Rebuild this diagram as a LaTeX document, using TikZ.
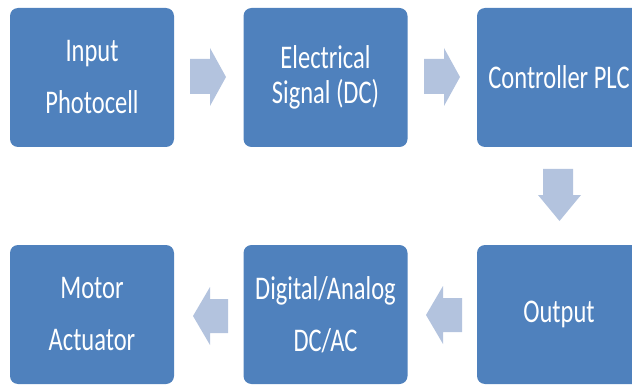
\documentclass[tikz,border=0pt]{standalone}
\usepackage{fontspec}
\setmainfont{Carlito}
\usetikzlibrary{calc}
\definecolor{boxblue}{HTML}{4F81BD}
\definecolor{arrowblue}{HTML}{B3C3DE}
\newcommand{\stl}[1]{\scalebox{1}[1.35]{#1}}
\begin{document}
\begin{tikzpicture}[x=1pt,y=-1pt,
  blk/.style={fill=boxblue, rounded corners=8pt, minimum width=164pt, minimum height=139pt,
    inner sep=0pt, text=white, align=center, font=\fontsize{24.5}{52}\selectfont},
  blktight/.style={blk, font=\fontsize{24.5}{35}\selectfont},
  blkarrow/.style={fill=arrowblue}]
\useasboundingbox (0,0) rectangle (632,385);
\clip (0,0) rectangle (632,385);
\node[blk] (b1) at (92,77.5) {\stl{Input}\\\stl{Photocell}};
\node[blktight] (b2) at (325.5,77.5) {\stl{Electrical}\\\stl{Signal (DC)}};
\node[blk] (b3) at (559,77.5) {\stl{Controller PLC}};
\node[blk] (b4) at (92,314.5) {\stl{Motor}\\\stl{Actuator}};
\node[blk] (b5) at (325.5,314.5) {\stl{Digital/Analog}\\\stl{DC/AC}};
\node[blk] (b6) at (559,314.5) {\stl{Output}};
% block arrows
\fill[blkarrow] (190,59) -- (210,59) -- (210,48) -- (226,77) -- (210,106) -- (210,94) -- (190,94) -- cycle;
\fill[blkarrow] (424,59) -- (444,59) -- (444,48) -- (460,77) -- (444,106) -- (444,94) -- (424,94) -- cycle;
\fill[blkarrow] (543,169) -- (573,169) -- (573,195) -- (581,195) -- (559.5,221) -- (538,195) -- (543,195) -- cycle;
\fill[blkarrow] (462,298) -- (443,298) -- (443,286) -- (426,315) -- (443,344) -- (443,332) -- (462,332) -- cycle;
\fill[blkarrow] (228,299) -- (210,299) -- (210,287) -- (193,316) -- (210,345) -- (210,333) -- (228,333) -- cycle;
\end{tikzpicture}
\end{document}
